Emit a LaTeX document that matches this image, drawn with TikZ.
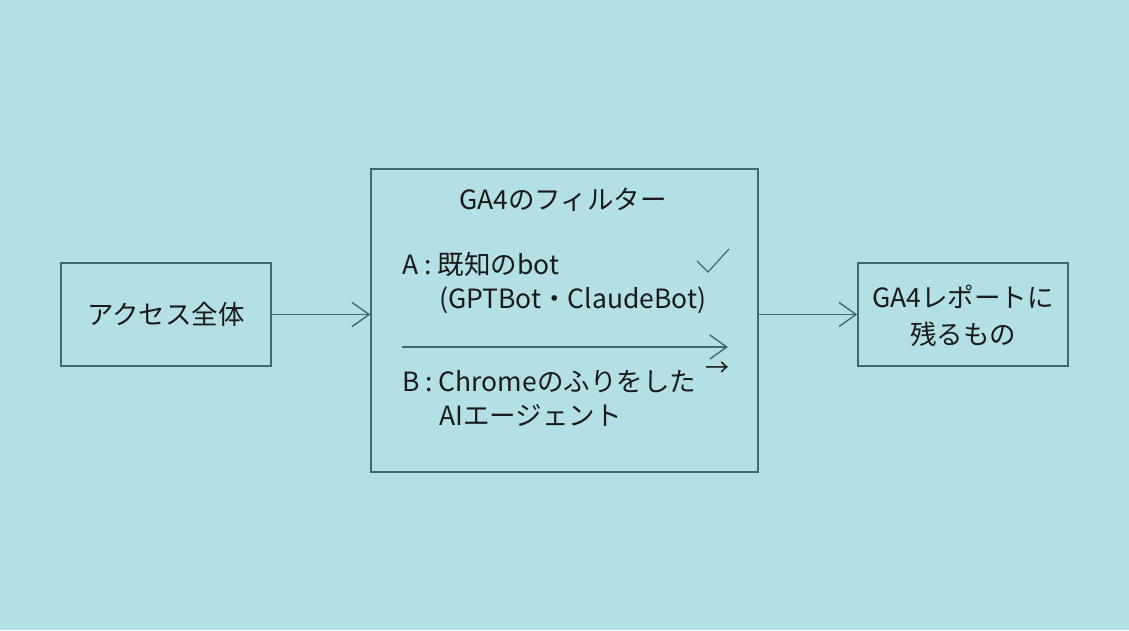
\documentclass[tikz,border=0pt]{standalone}
\usepackage{fontspec}
\setmainfont{Noto Sans CJK JP}
\usetikzlibrary{arrows.meta}

\definecolor{bgteal}{HTML}{B3E0E5}
\definecolor{linegray}{HTML}{406B6C}
\definecolor{inkblack}{HTML}{1A1A1A}

\tikzset{
  box/.style={draw=linegray, line width=1.4pt, minimum width=210pt, minimum height=103pt, inner sep=0pt},
  txt/.style={text=inkblack, font=\fontsize{26.5}{30}\selectfont, inner sep=0pt},
  arr/.style={draw=linegray, line width=1.4pt, -{Straight Barb[length=17pt,width=24pt,line width=1.4pt]}}
}

\begin{document}
\begin{tikzpicture}[x=1pt, y=-1pt]
    % Background
    \fill[bgteal] (0,0) rectangle (1129,630);
    \useasboundingbox (0,0) rectangle (1129,630);

    % Boxes
    \node[box] (all) at (166,314.5) {};
    \node[box, minimum width=387pt, minimum height=303pt] (filter) at (564.5,320.5) {};
    \node[box] (report) at (963,314.5) {};

    % Box texts
    \node[txt] (allt) at (all) {アクセス全体};
    \node[txt] (title) at (563,200) {GA4のフィルター};
    \node[txt, anchor=west] (a1) at (402,264) {A : 既知のbot};
    \node[txt, anchor=west] (a2) at (439,300) {(GPTBot・ClaudeBot)};
    \node[txt, anchor=west] (b1) at (402,382) {B : Chromeのふりをした};
    \node[txt, anchor=west] (b2) at (439,415) {AIエージェント};
    \node[txt] (r1) at (963,297) {GA4レポートに};
    \node[txt] (r2) at (963,334) {残るもの};

    % Small marks
    \node[txt, font=\fontsize{24}{26}\selectfont] (barr) at (717,369) {→};
    \draw[linegray, line width=1.2pt] (697,261) -- (708,272) -- (729,249);

    % Arrows between boxes
    \draw[arr] (all.east) -- (filter.west |- all.east);
    \draw[arr] (filter.east |- report.west) -- (report.west);

    % Divider arrow
    \coordinate (sepL) at (402,347);
    \coordinate (sepR) at (728,347);
    \draw[arr] (sepL) -- (sepR);
\end{tikzpicture}
\end{document}
